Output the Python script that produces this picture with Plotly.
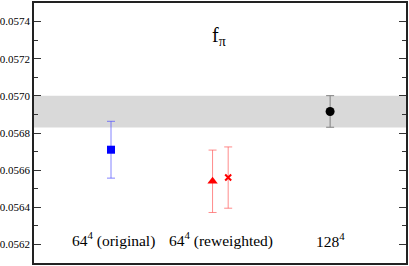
import plotly.graph_objects as go

# Data
labels = ["64<sup>4</sup> (original)", "64<sup>4</sup> (reweighted)", "128<sup>4</sup>"]
label_x = [2.15, 5.03, 7.96]

blue_x = [2.07]
blue_y = [0.05671]
blue_err = [0.000153]

red_tri_x = [4.80]
red_tri_y = [0.05654]
red_tri_err = [0.000168]

red_x_x = [5.22]
red_x_y = [0.05656]
red_x_err = [0.000165]

black_x = [7.96]
black_y = [0.056916]
black_err = [0.000085]

band = [0.05683, 0.0570]

yticks = [0.0562, 0.0564, 0.0566, 0.0568, 0.0570, 0.0572, 0.0574]

font = "Liberation Serif"

fig = go.Figure()

fig.add_shape(type="rect", xref="paper", yref="y", x0=0, x1=1, y0=band[0], y1=band[1],
              fillcolor="#d9d9d9", line_width=0, layer="below")

def add(x, y, e, color, ecolor, symbol, size):
    fig.add_trace(go.Scatter(
        x=x, y=y, mode="markers",
        marker=dict(symbol=symbol, size=size, color=color, line=dict(width=0)),
        error_y=dict(type="data", array=e, color=ecolor, thickness=1, width=4),
        showlegend=False, hoverinfo="skip"))

add(blue_x, blue_y, blue_err, "#0000ff", "rgba(80,80,255,0.7)", "square", 8)
add(red_tri_x, red_tri_y, red_tri_err, "#ff0000", "rgba(255,90,90,0.7)", "triangle-up", 9)
add(red_x_x, red_x_y, red_x_err, "#ff0000", "rgba(255,90,90,0.7)", "x-thin-open", 6)
fig.data[-1].marker.line = dict(width=2, color="#ff0000")
add(black_x, black_y, black_err, "#000000", "#808080", "circle", 9)

for lx, lt in zip(label_x, labels):
    fig.add_annotation(x=lx, y=0.056225, xref="x", yref="y", text=lt, showarrow=False,
                       font=dict(family=font, size=15.5, color="black"), yanchor="middle")

fig.add_annotation(x=0.497, y=0.05732, xref="paper", yref="y", text="f<sub>π</sub>", showarrow=False,
                   font=dict(family=font, size=20, color="black"), yanchor="middle")

fig.update_layout(
    width=409, height=266,
    margin=dict(l=34, r=3, t=3, b=3, autoexpand=False),
    plot_bgcolor="white", paper_bgcolor="white",
    font=dict(family=font, size=11, color="black"),
)
fig.update_xaxes(range=[0, 10], showticklabels=False, ticks="", showgrid=False, zeroline=False,
                 showline=True, linecolor="#222", linewidth=1.5, mirror=True, automargin=False)
fig.update_yaxes(range=[0.0561, 0.0575], tickvals=yticks, tickformat=".4f", automargin=False,
                 ticks="inside", ticklen=7, tickcolor="#333", showgrid=False, zeroline=False,
                 showline=True, linecolor="#222", linewidth=1.5, mirror="ticks",
                 ticklabelstandoff=0,
                 minor=dict(dtick=0.0001, ticks="inside", ticklen=4, tickcolor="#333", showgrid=False),
                 tickfont=dict(family=font, size=11, color="black"))

fig.write_html("out.html", config={"displayModeBar": False},
               post_script="document.body.style.margin='0';document.body.style.padding='0';document.body.style.overflow='hidden';")
